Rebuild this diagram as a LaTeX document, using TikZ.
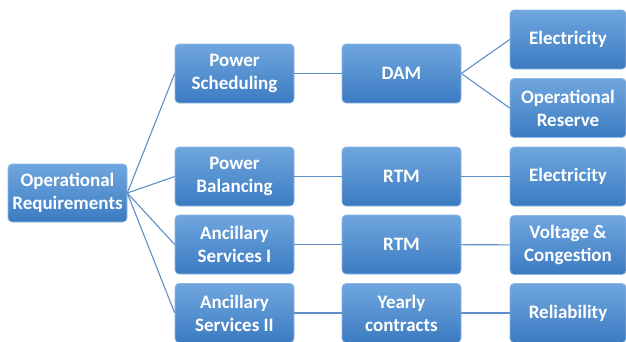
\documentclass[tikz,border=0pt]{standalone}
\usepackage{fontspec}
\setmainfont{Carlito}
\definecolor{boxtop}{HTML}{6FA6DE}
\definecolor{boxbot}{HTML}{3C7BC2}
\definecolor{boxrim}{HTML}{8DB8E6}
\definecolor{linkblue}{HTML}{5E8FC8}

\begin{document}
\begin{tikzpicture}[x=1pt,y=-1pt]
        \tikzset{block/.style = {shape=rectangle,rounded corners=4pt,draw=boxrim,line width=0.6pt,
                 top color=boxtop,bottom color=boxbot,text=white,align=center,
                 minimum width=119pt,minimum height=59pt,inner sep=0pt,
                 font=\bfseries\fontsize{19}{23}\selectfont}}
        \tikzset{link/.style = {draw=linkblue,line width=1.1pt}}
        \useasboundingbox (0,0) rectangle (626,341);
        % vertices
        \node[block,minimum height=58pt] (req) at (67.5,193) {Operational\\Requirements};
        \node[block] (sched) at (234.5,73.5)  {Power\\Scheduling};
        \node[block] (bal)   at (234.5,176.5) {Power\\Balancing};
        \node[block] (ancI)  at (234.5,244.5) {Ancillary\\Services I};
        \node[block] (ancII) at (234.5,313)   {Ancillary\\Services II};
        \node[block] (dam)   at (401.5,73.5)  {DAM};
        \node[block] (rtmA)  at (401.5,176.5) {RTM};
        \node[block] (rtmB)  at (401.5,244.5) {RTM};
        \node[block] (yearly) at (401.5,313)  {Yearly\\contracts};
        \node[block,minimum width=116pt] (elecA)   at (568,39.5)  {Electricity};
        \node[block,minimum width=116pt] (reserve) at (568,108)   {Operational\\Reserve};
        \node[block,minimum width=116pt] (elecB)   at (568,176.5) {Electricity};
        \node[block,minimum width=116pt] (volt)    at (568,245)   {Voltage \&\\Congestion};
        \node[block,minimum width=116pt] (rel)     at (568,313)   {Reliability};
        %edges
        \draw[link] (req.east) -- (sched.west);
        \draw[link] (req.east) -- (bal.west);
        \draw[link] (req.east) -- (ancI.west);
        \draw[link] (req.east) -- (ancII.west);
        \draw[link] (sched) -- (dam);
        \draw[link] (bal) -- (rtmA);
        \draw[link] (ancI) -- (rtmB);
        \draw[link] (ancII) -- (yearly);
        \draw[link] (dam.east) -- (elecA.west);
        \draw[link] (dam.east) -- (reserve.west);
        \draw[link] (rtmA) -- (elecB);
        \draw[link] (rtmB) -- (volt);
        \draw[link] (yearly) -- (rel);
\end{tikzpicture}
\end{document}
